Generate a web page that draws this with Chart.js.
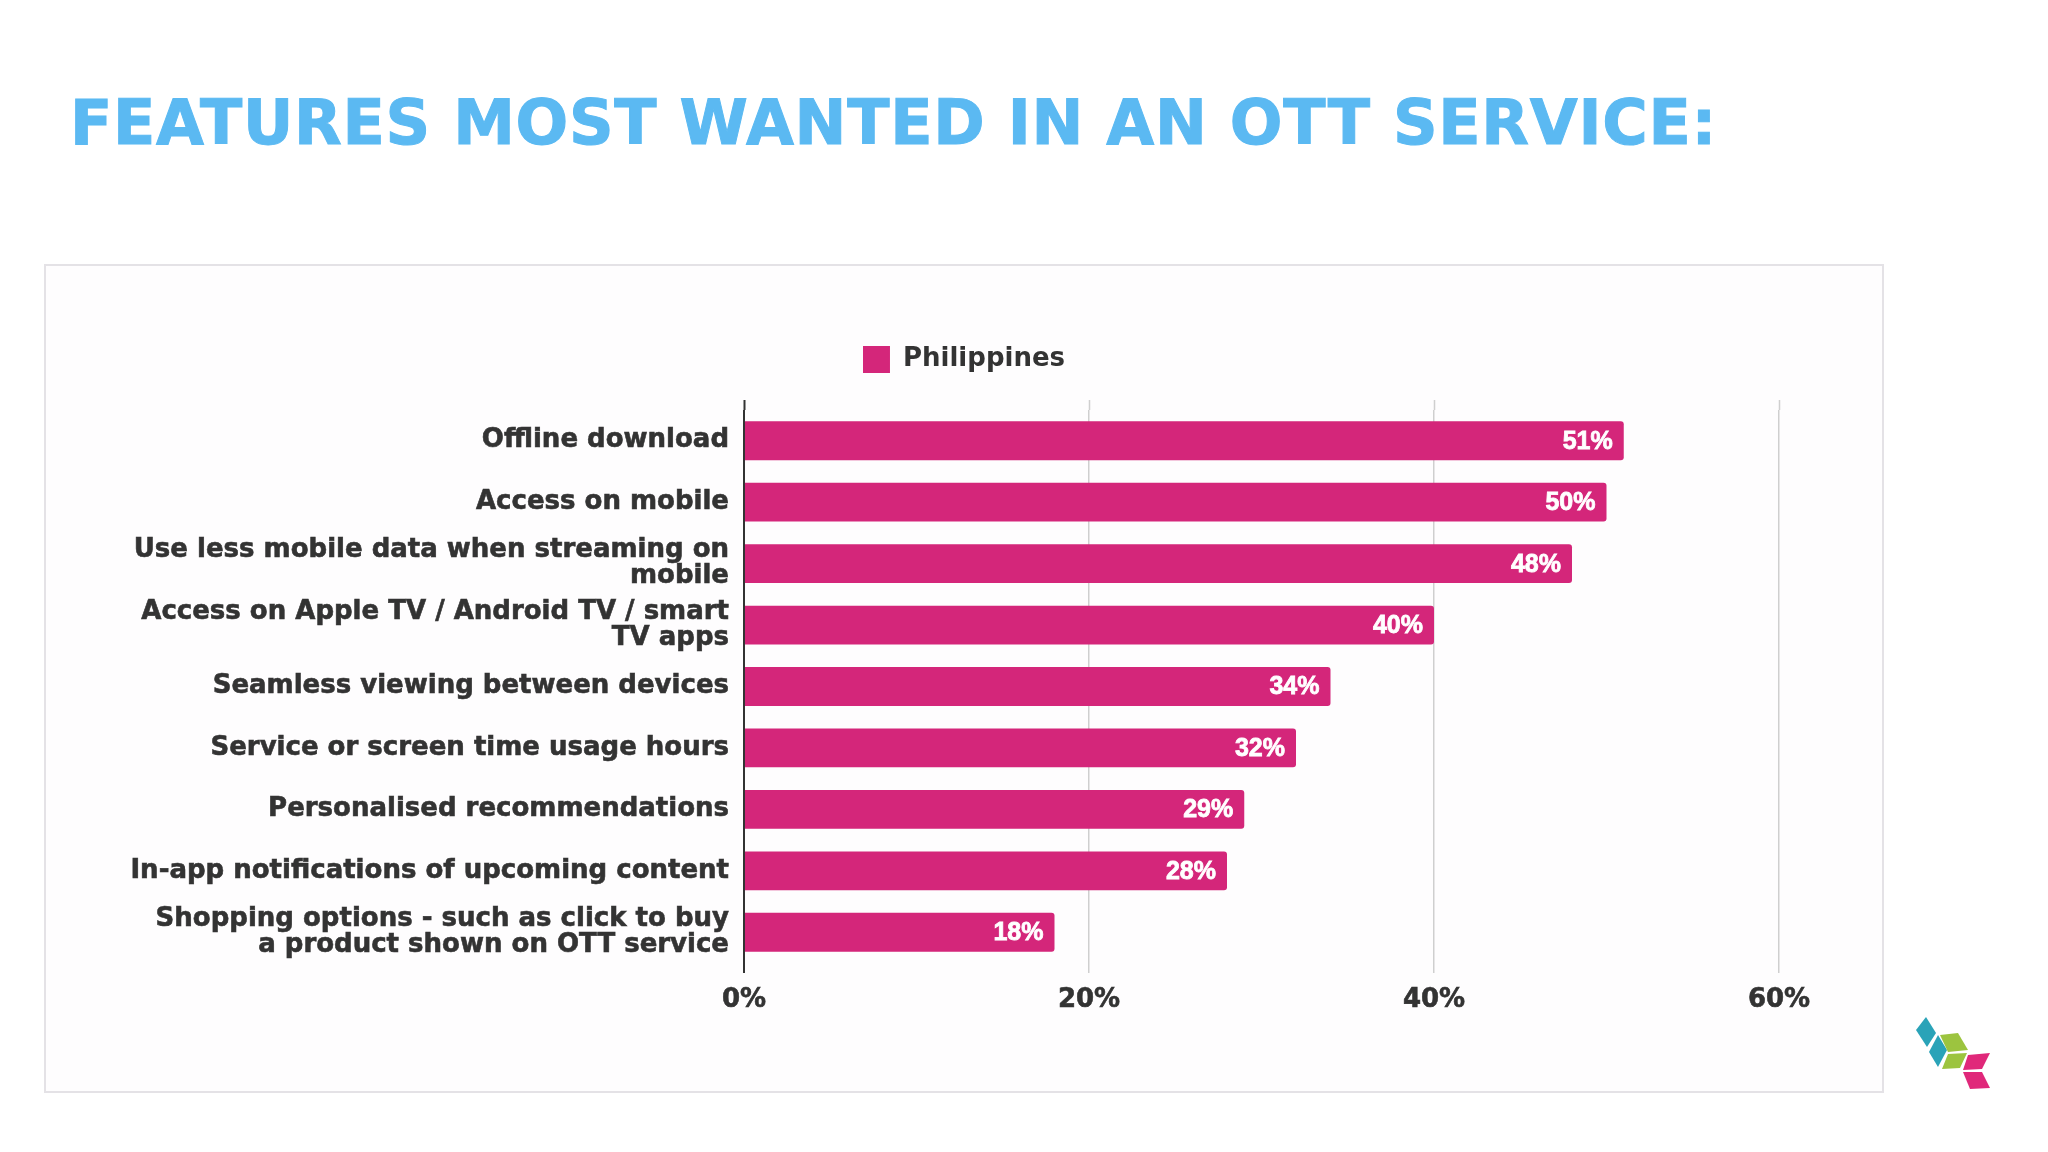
<!DOCTYPE html>
<html>
<head>
<meta charset="utf-8">
<title>Features most wanted in an OTT service</title>
<script src="https://cdn.jsdelivr.net/npm/chart.js@4.4.1/dist/chart.umd.min.js"></script>
<style>
    html, body { margin: 0; padding: 0; background: #ffffff; }
    body { width: 2048px; height: 1152px; position: relative; overflow: hidden; font-family: "DejaVu Sans", sans-serif; }
    h1 {
        position: absolute; left: 70px; top: 92px; margin: 0;
        font-size: 62px; line-height: 62px; font-weight: bold;
        letter-spacing: 0.7px;
        color: #5bb9f2; -webkit-text-stroke: 1px #5bb9f2; white-space: nowrap;
    }
    .chart-box {
        position: absolute; left: 44px; top: 264px; width: 1836px; height: 825px;
        border: 2px solid #e4e2e6; background: #fefdfe;
    }
    .chart-box canvas { position: absolute; left: 0; top: 0; }
    .logo { position: absolute; left: 0; top: 0; }
</style>
</head>
<body>
<h1>FEATURES MOST WANTED IN AN OTT SERVICE:</h1>
<div class="chart-box"><canvas id="featuresChart"></canvas></div>
<svg class="logo" width="2048" height="1152" viewBox="0 0 2048 1152">
    <polygon points="1926,1017 1936,1033 1927,1047 1916,1030" fill="#2aa3b8"/>
    <polygon points="1938,1035 1947,1050 1938,1067 1929,1052" fill="#2aa3b8"/>
    <polygon points="1940,1035 1958,1033 1968,1050 1948,1052" fill="#9cc43f"/>
    <polygon points="1948,1054 1967,1053 1960,1068 1942,1069" fill="#9cc43f"/>
    <polygon points="1968,1055 1990,1053 1982,1069 1963,1070" fill="#e0287a"/>
    <polygon points="1963,1072 1982,1072 1990,1088 1970,1089" fill="#e0287a"/>
</svg>
<script>
const categories = [
    'Offline download',
    'Access on mobile',
    ['Use less mobile data when streaming on', 'mobile'],
    ['Access on Apple TV / Android TV / smart', 'TV apps'],
    'Seamless viewing between devices',
    'Service or screen time usage hours',
    'Personalised recommendations',
    'In-app notifications of upcoming content',
    ['Shopping options - such as click to buy', 'a product shown on OTT service']
];
const philippines = [51, 50, 48, 40, 34, 32, 29, 28, 18];
const xTicks = [0, 20, 40, 60];

const BAR = '#d4267a';
const TEXT = '#333333';
const FONT = '"DejaVu Sans", sans-serif';
const VALUE_FONT = '"Liberation Sans", Arial, sans-serif';

// extra room under the legend, and centre it on the whole box rather than the padded area
const legendSpacing = {
    id: 'legendSpacing',
    beforeInit(chart) {
        const fit = chart.legend.fit;
        chart.legend.fit = function() {
            fit.bind(chart.legend)();
            this.height += 27;
        };
    },
    afterLayout(chart) {
        chart.legend.left = 0;
        chart.legend.right = chart.width;
        chart.legend.width = chart.width;
    }
};

// gridlines in the slide run a little above the first bar
const gridOvershoot = {
    id: 'gridOvershoot',
    beforeDatasetsDraw(chart) {
        const { ctx, chartArea, scales } = chart;
        ctx.save();
        xTicks.forEach(v => {
            const x = Math.round(scales.x.getPixelForValue(v)) + 0.5;
            ctx.strokeStyle = v === 0 ? '#333333' : '#cfcfcf';
            ctx.lineWidth = v === 0 ? 2 : 1.5;
            ctx.beginPath();
            ctx.moveTo(x, chartArea.top - 10);
            ctx.lineTo(x, chartArea.top);
            ctx.stroke();
        });
        ctx.restore();
    }
};

// percentage written inside the end of each bar
const valueLabels = {
    id: 'valueLabels',
    afterDatasetsDraw(chart) {
        const ctx = chart.ctx;
        const meta = chart.getDatasetMeta(0);
        ctx.save();
        ctx.font = `bold 25px ${VALUE_FONT}`;
        ctx.fillStyle = '#ffffff';
        ctx.strokeStyle = '#ffffff';
        ctx.lineWidth = 0.8;
        ctx.textAlign = 'right';
        ctx.textBaseline = 'middle';
        meta.data.forEach((bar, i) => {
            ctx.fillText(`${philippines[i]}%`, bar.x - 11, bar.y + 1);
            ctx.strokeText(`${philippines[i]}%`, bar.x - 11, bar.y + 1);
        });
        ctx.restore();
    }
};

new Chart(document.getElementById('featuresChart').getContext('2d'), {
    type: 'bar',
    data: {
        labels: categories,
        datasets: [{
            label: 'Philippines',
            data: philippines,
            backgroundColor: BAR,
            borderRadius: { topRight: 3, bottomRight: 3 },
            borderSkipped: 'start',
            categoryPercentage: 0.8,
            barPercentage: 0.79
        }]
    },
    options: {
        indexAxis: 'y',
        responsive: true,
        maintainAspectRatio: false,
        animation: false,
        layout: { padding: { top: 70, right: 103, bottom: 0, left: 0 } },
        plugins: {
            legend: {
                position: 'top',
                labels: {
                    boxWidth: 27, boxHeight: 27, padding: 10,
                    color: TEXT,
                    font: { family: FONT, size: 26, weight: 'bold' }
                }
            },
            tooltip: { enabled: false }
        },
        scales: {
            x: {
                min: 0, max: 60,
                afterBuildTicks: scale => { scale.ticks = xTicks.map(v => ({ value: v })); },
                grid: {
                    color: ctx => (ctx.tick && ctx.tick.value === 0) ? '#333333' : '#cfcfcf',
                    lineWidth: ctx => (ctx.tick && ctx.tick.value === 0) ? 2 : 1.5,
                    tickLength: 10
                },
                border: { display: false },
                ticks: {
                    padding: 12,
                    color: TEXT,
                    textStrokeColor: TEXT,
                    textStrokeWidth: 0.6,
                    font: { family: FONT, size: 26, weight: 'bold' },
                    callback: value => `${value}%`
                },
                afterFit: scale => { scale.height = 128; }
            },
            y: {
                grid: { display: false, drawTicks: false },
                border: { display: false },
                ticks: {
                    padding: 15,
                    color: TEXT,
                    textStrokeColor: TEXT,
                    textStrokeWidth: 0.6,
                    font: { family: FONT, size: 26, weight: 'bold', lineHeight: 1.0 }
                },
                afterFit: scale => { scale.width = 698; }
            }
        }
    },
    plugins: [legendSpacing, gridOvershoot, valueLabels]
});
</script>
</body>
</html>
